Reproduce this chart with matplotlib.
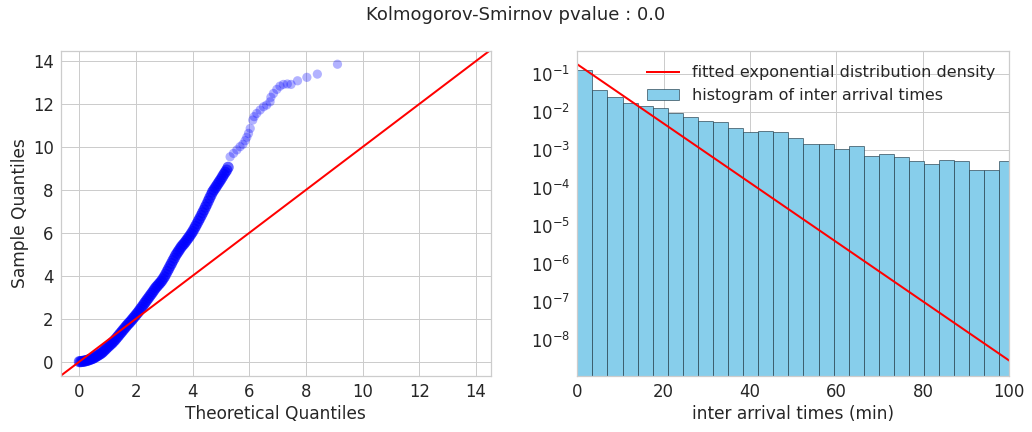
import numpy as np
import matplotlib
matplotlib.use("Agg")
import matplotlib.pyplot as plt

# QQ plot data (theoretical vs sample quantiles), dense part of the curve
qq_dense_theo = [0.00, 0.05, 0.10, 0.15, 0.20, 0.25, 0.30, 0.35, 0.40, 0.45,
                 0.50, 0.55, 0.60, 0.65, 0.70, 0.75, 0.80, 0.85, 0.90, 0.95,
                 1.00, 1.05, 1.10, 1.15, 1.20, 1.25, 1.30, 1.35, 1.40, 1.45,
                 1.50, 1.55, 1.60, 1.65, 1.70, 1.75, 1.80, 1.85, 1.90, 1.95,
                 2.00, 2.05, 2.10, 2.15, 2.20, 2.25, 2.30, 2.35, 2.40, 2.45,
                 2.50, 2.55, 2.60, 2.65, 2.70, 2.75, 2.80, 2.85, 2.90, 2.95,
                 3.00, 3.05, 3.10, 3.15, 3.20, 3.25, 3.30, 3.35, 3.40, 3.45,
                 3.50, 3.55, 3.60, 3.65, 3.70, 3.75, 3.80, 3.85, 3.90, 3.95,
                 4.00, 4.05, 4.10, 4.15, 4.20, 4.25, 4.30, 4.35, 4.40, 4.45,
                 4.50, 4.55, 4.60, 4.65, 4.70, 4.75, 4.80, 4.85, 4.90, 4.95,
                 5.00, 5.05, 5.10, 5.15, 5.20, 5.25]
qq_dense_sample = [0.00, 0.00, 0.01, 0.02, 0.03, 0.05, 0.07, 0.09, 0.12, 0.14,
                   0.17, 0.21, 0.25, 0.29, 0.33, 0.37, 0.42, 0.48, 0.55, 0.61,
                   0.68, 0.74, 0.80, 0.86, 0.93, 1.00, 1.08, 1.16, 1.24, 1.32,
                   1.40, 1.48, 1.56, 1.64, 1.72, 1.79, 1.86, 1.94, 2.02, 2.10,
                   2.18, 2.26, 2.35, 2.44, 2.53, 2.62, 2.72, 2.81, 2.90, 2.99,
                   3.08, 3.17, 3.26, 3.36, 3.45, 3.52, 3.60, 3.67, 3.75, 3.85,
                   3.95, 4.07, 4.20, 4.32, 4.45, 4.57, 4.70, 4.82, 4.95, 5.05,
                   5.15, 5.25, 5.35, 5.43, 5.50, 5.59, 5.68, 5.77, 5.86, 5.96,
                   6.06, 6.18, 6.30, 6.42, 6.55, 6.67, 6.80, 6.93, 7.06, 7.20,
                   7.33, 7.48, 7.62, 7.76, 7.90, 8.00, 8.10, 8.20, 8.30, 8.40,
                   8.50, 8.61, 8.72, 8.82, 8.92, 9.05]

# QQ plot data, sparse upper tail
qq_tail_theo = [5.32, 5.44, 5.56, 5.67, 5.77, 5.85, 5.91, 5.97, 6.03, 6.12,
                6.17, 6.26, 6.38, 6.50, 6.61, 6.73, 6.76, 6.85, 6.97, 7.08,
                7.20, 7.34, 7.47, 7.70, 8.03, 8.40, 9.11]
qq_tail_sample = [9.54, 9.70, 9.86, 10.01, 10.12, 10.29, 10.45, 10.63, 10.86, 11.25,
                  11.41, 11.56, 11.72, 11.87, 11.95, 12.10, 12.31, 12.49, 12.68, 12.83,
                  12.91, 12.93, 12.91, 13.08, 13.24, 13.39, 13.85]

# histogram of inter arrival times (density per bin)
bin_width = 3.49
hist_density = [0.13, 0.0385, 0.0252, 0.0175, 0.0146, 0.0129, 0.0097, 0.00746,
                0.00597, 0.0055, 0.00383, 0.0030, 0.00319, 0.0030, 0.00209,
                0.00145, 0.00145, 0.00107, 0.00129, 0.000698, 0.000794, 0.00066,
                0.000515, 0.00043, 0.00055, 0.000515, 0.000299, 0.000299, 0.000515]

# fitted exponential density (straight on log axis): endpoints
fit_x = [0, 100]
fit_y = [0.184, 2.8e-9]

title = "Kolmogorov-Smirnov pvalue : 0.0"

# --- style (seaborn whitegrid look) ---
plt.rcParams.update({
    "font.family": "DejaVu Sans",
    "axes.facecolor": "white",
    "axes.edgecolor": "#cccccc",
    "axes.linewidth": 1.25,
    "axes.grid": True,
    "axes.axisbelow": True,
    "grid.color": "#cccccc",
    "grid.linewidth": 1.0,
    "text.color": "#262626",
    "axes.labelcolor": "#262626",
    "xtick.color": "#262626",
    "ytick.color": "#262626",
    "xtick.major.size": 0,
    "ytick.major.size": 0,
    "xtick.minor.size": 0,
    "ytick.minor.size": 0,
    "xtick.major.pad": 7,
    "ytick.major.pad": 7,
})

fig = plt.figure(figsize=(1032 / 72, 432 / 72), dpi=72)
ax1 = fig.add_axes([0.0588, 0.1296, 0.417, 0.7530])
ax2 = fig.add_axes([0.5594, 0.1296, 0.4186, 0.7530])

fs = 16.5
lab_fs = 17

# left: QQ plot
ax1.scatter(qq_dense_theo, qq_dense_sample, s=125, color="blue", alpha=0.6, edgecolors="none")
ax1.scatter(qq_tail_theo, qq_tail_sample, s=85, color="blue", alpha=0.3, edgecolors="none")
ax1.set_xlim(-0.66, 14.53)
ax1.set_ylim(-0.67, 14.48)
ax1.plot([-1, 15], [-1, 15], color="red", lw=2)
ax1.set_xticks(range(0, 15, 2))
ax1.set_yticks(range(0, 15, 2))
ax1.tick_params(labelsize=fs)
ax1.set_xlabel("Theoretical Quantiles", fontsize=lab_fs)
ax1.set_ylabel("Sample Quantiles", fontsize=lab_fs)

# right: histogram + fitted density
bin_left = np.arange(len(hist_density)) * bin_width
ax2.bar(bin_left, hist_density, width=bin_width, align="edge", color="skyblue",
        edgecolor=(0.1, 0.2, 0.25, 0.6), linewidth=1, label="histogram of inter arrival times")
ax2.plot(fit_x, fit_y, color="red", lw=2, label="fitted exponential distribution density")
ax2.set_yscale("log")
ax2.set_xlim(0, 100)
ax2.set_ylim(1.1e-9, 0.42)
ax2.set_yticks([1e-8, 1e-7, 1e-6, 1e-5, 1e-4, 1e-3, 1e-2, 1e-1])
ax2.minorticks_off()
ax2.tick_params(labelsize=fs)
ax2.set_xlabel("inter arrival times (min)", fontsize=lab_fs)
ax2.legend(loc="upper right", frameon=False, fontsize=16)

fig.suptitle(title, fontsize=18, y=0.965, va="center")

fig.savefig("out.png", dpi=72)
